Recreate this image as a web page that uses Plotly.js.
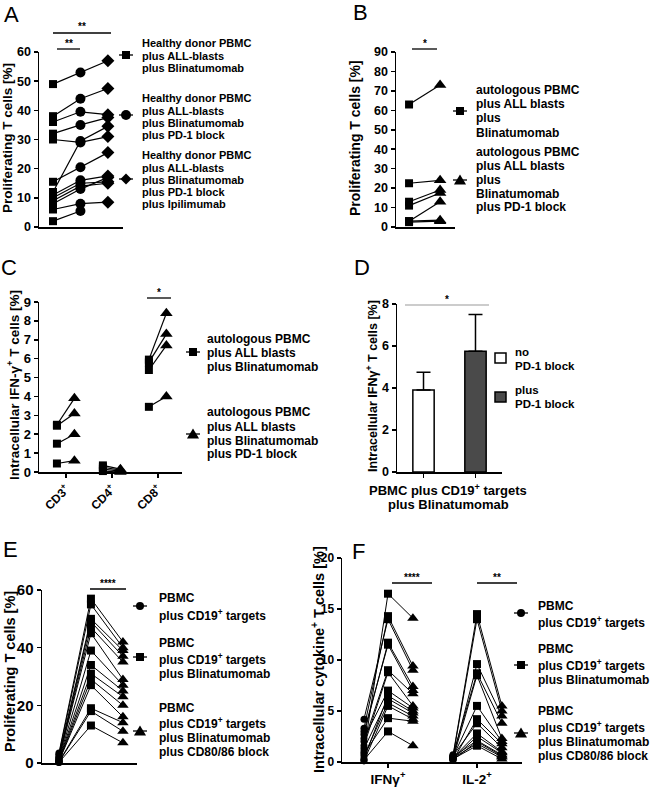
<!DOCTYPE html>
<html><head><meta charset="utf-8">
<script src="https://cdn.plot.ly/plotly-3.0.1.min.js"></script>
<style>html,body{margin:0;padding:0;background:#fff}</style>
</head><body><div id="chart" style="width:650px;height:789px"></div>
<script>
// ---------- DATA ----------
// Panel A: proliferating T cells [%], healthy donors
const A_blina      = [49, 38, 36, 32, 30, 12, 15.5, 11, 10, 9, 8, 6, 2];
const A_pd1        = [53, 44, 39.5, 35, 29, 29.5, 20.5, 16, 15, 14, 13, 8, 5.5];
const A_pd1_ipi    = [57, 47.5, 38.5, 37.5, 31, 34.5, 25.5, 17.5, 15.5, 15, 17, 8.5, null];
// Panel B: autologous PBMC
const B_blina      = [63, 22.5, 13, 11, 3, 3, 2.5];
const B_pd1        = [73, 24, 19, 17.5, 13, 3.5, 3];
// Panel C: intracellular IFN-g+ T cells [%]
const C_categories = ["CD3<sup>+</sup>", "CD4<sup>+</sup>", "CD8<sup>+</sup>"];
const C_blina      = [[2.5, 2.45, 1.5, 0.45], [0.35, 0.25, 0.15, 0.05], [5.95, 5.8, 5.4, 3.45]];
const C_pd1        = [[3.9, 3.1, 2.0, 0.6], [0.15, 0.1, 0.05, 0.0], [8.4, 7.3, 6.7, 4.0]];
// Panel D: mean + SD
const D_labels     = ["no PD-1 block", "plus PD-1 block"];
const D_means      = [3.9, 5.75];
const D_sd         = [0.85, 1.75];
// Panel E: proliferating T cells [%]
const E_ctrl       = [3.5, 3.0, 2.5, 2.0, 1.8, 1.5, 1.2, 1.0, 0.8, 0.6, 0.5, 0.4, 0.3, 0.2];
const E_blina      = [57, 55, 50, 49, 47, 45, 39, 34, 31, 29, 27, 19, 18, 13];
const E_cd80       = [42, 40, 39, 37, 35, 29, 27, 25, 23, 20, 16, 14, 11, 7];
// Panel F: intracellular cytokine+ T cells [%]
const F_categories = ["IFNγ<sup>+</sup>", "IL-2<sup>+</sup>"];
const F_ifn_ctrl   = [1.0, 3.3, 4.2, 2.7, 3.0, 2.0, 1.6, 2.3, 0.3, 1.3, 0.6, 0.1, 0.8, 0.2];
const F_ifn_blina  = [16.5, 14.3, 14.0, 11.7, 11.5, 9.0, 8.8, 7.0, 6.5, 6.2, 5.8, 5.5, 4.3, 3.0];
const F_ifn_cd80   = [14.1, 9.4, 9.0, 7.4, 7.0, 6.7, 5.5, 5.3, 5.0, 4.8, 4.5, 4.2, 4.0, 1.6];
const F_il2_ctrl   = [0.6, 0.5, 0.4, 0.7, 0.3, 0.5, 0.2, 0.6, 0.4, 0.3, 0.5, 0.2, 0.4, 0.3];
const F_il2_blina  = [14.5, 14.0, 9.6, 8.7, 8.5, 5.5, 4.2, 3.8, 2.8, 2.5, 2.1, 2.0, 1.8, 1.6];
const F_il2_cd80   = [5.5, 5.0, 4.5, 3.8, 2.3, 2.0, 1.8, 1.4, 1.0, 0.9, 0.7, 0.6, 0.5, 0.3];

// ---------- HELPERS ----------
const W = 650, H = 789;
const px = x => x / W, py = y => 1 - y / H;
const FAM = "Liberation Sans, Arial, sans-serif";
const traces = [], shapes = [], annotations = [];

function paired(xa, ya, cols, xs, syms, sizes, lw) {
  const lx = [], ly = [];
  const n = cols[0].length;
  for (let i = 0; i < n; i++) {
    for (let c = 0; c < cols.length; c++) {
      if (cols[c][i] !== null && cols[c][i] !== undefined) { lx.push(xs[c]); ly.push(cols[c][i]); }
    }
    lx.push(null); ly.push(null);
  }
  traces.push({type: 'scatter', mode: 'lines', x: lx, y: ly, xaxis: xa, yaxis: ya,
    line: {color: 'black', width: lw || 1.2}, hoverinfo: 'skip', cliponaxis: false});
  for (let c = 0; c < cols.length; c++) {
    traces.push({type: 'scatter', mode: 'markers', x: cols[c].map(() => xs[c]), y: cols[c],
      xaxis: xa, yaxis: ya, cliponaxis: false,
      marker: {symbol: syms[c], size: sizes[c], color: 'black', line: {width: 0}}});
  }
}

function text(x, y, t, size, opts) {
  annotations.push(Object.assign({xref: 'paper', yref: 'paper', x: px(x), y: py(y), text: t,
    showarrow: false, xanchor: 'left', yanchor: 'middle',
    font: {family: FAM, size: size, color: 'black', weight: 700}}, opts || {}));
}
function lines(x, ys, arr, size) { arr.forEach((t, i) => text(x, ys[i], t, size)); }
function ytitle(cx, cy, t, size) {
  text(cx, cy, t, size, {xanchor: 'center', textangle: -90});
}
function letter(cx, cy, t) {
  text(cx, cy, t, 22, {xanchor: 'center', font: {family: FAM, size: 22, color: 'black', weight: 400}});
}
function hline(x0, x1, y, color, w) {
  shapes.push({type: 'line', xref: 'paper', yref: 'paper', x0: px(x0), x1: px(x1), y0: py(y), y1: py(y),
    line: {color: color || 'black', width: w || 1.2}});
}
function sig(x0, x1, y, stars, color) {
  hline(x0, x1, y, color || 'black', 1.3);
  text((x0 + x1) / 2, y - 6, stars, 10, {xanchor: 'center'});
}
function legSym(x, y, kind, r) {
  hline(x - 7, x + 7, y, 'black', 1.3);
  const f = {fillcolor: 'black', line: {color: 'black', width: 0}, xref: 'paper', yref: 'paper'};
  if (kind === 'square') shapes.push(Object.assign({type: 'rect', x0: px(x - r), x1: px(x + r), y0: py(y + r), y1: py(y - r)}, f));
  else if (kind === 'circle') shapes.push(Object.assign({type: 'circle', x0: px(x - r), x1: px(x + r), y0: py(y + r), y1: py(y - r)}, f));
  else if (kind === 'diamond') shapes.push(Object.assign({type: 'path',
    path: `M ${px(x)} ${py(y - r)} L ${px(x + r)} ${py(y)} L ${px(x)} ${py(y + r)} L ${px(x - r)} ${py(y)} Z`}, f));
  else if (kind === 'triangle') shapes.push(Object.assign({type: 'path',
    path: `M ${px(x)} ${py(y - r)} L ${px(x + r * 1.1)} ${py(y + r * 0.8)} L ${px(x - r * 1.1)} ${py(y + r * 0.8)} Z`}, f));
}
function yax(y0, y1, range, dtick, fs, anchor) {
  return {domain: [py(y1), py(y0)], range: range, dtick: dtick, tick0: 0, anchor: anchor,
    showline: true, linecolor: 'black', linewidth: 1.5, ticks: 'outside', ticklen: 4, tickwidth: 1.5,
    tickcolor: 'black', showgrid: false, zeroline: false, fixedrange: true,
    tickfont: {family: FAM, size: fs, color: 'black', weight: 700}};
}
function xax(x0, x1, range, anchor, tickvals, ticktext, fs, angle) {
  const o = {domain: [px(x0), px(x1)], range: range, anchor: anchor,
    showline: true, linecolor: 'black', linewidth: 1.5, showgrid: false, zeroline: false, fixedrange: true,
    tickfont: {family: FAM, size: fs || 12, color: 'black', weight: 700}};
  if (tickvals) {
    Object.assign(o, {tickmode: 'array', tickvals: tickvals, ticktext: ticktext, ticks: 'outside',
      ticklen: 4, tickwidth: 1.5, tickcolor: 'black'});
    if (angle !== undefined) o.tickangle = angle;
  } else {
    Object.assign(o, {showticklabels: false, ticks: ''});
  }
  return o;
}

// ---------- PANEL A ----------
paired('x', 'y', [A_blina, A_pd1, A_pd1_ipi], [0, 1, 2], ['square', 'circle', 'diamond'], [8, 10, 10]);
// ---------- PANEL B ----------
paired('x2', 'y2', [B_blina, B_pd1], [0, 1], ['square', 'triangle-up'], [8, 11]);
// ---------- PANEL C ----------
C_categories.forEach((c, k) => {
  paired('x3', 'y3', [C_blina[k], C_pd1[k]], [k - 0.2, k + 0.18], ['square', 'triangle-up'], [8, 11]);
});
// ---------- PANEL D ----------
traces.push({type: 'bar', x: [0, 1], y: D_means, xaxis: 'x4', yaxis: 'y4', width: 0.41,
  marker: {color: ['#ffffff', '#4a4a4a'], line: {color: 'black', width: 1.5}},
  error_y: {type: 'data', symmetric: false, array: D_sd, arrayminus: D_sd.map(() => 0),
    color: 'black', thickness: 1.5, width: 7}, hovertext: D_labels});
// ---------- PANEL E ----------
paired('x5', 'y5', [E_ctrl, E_blina, E_cd80], [0, 1, 2], ['circle', 'square', 'triangle-up'], [7, 8, 10], 1.0);
// ---------- PANEL F ----------
paired('x6', 'y6', [F_ifn_ctrl, F_ifn_blina, F_ifn_cd80], [-0.27, 0, 0.28], ['circle', 'square', 'triangle-up'], [7, 8, 10], 1.0);
paired('x6', 'y6', [F_il2_ctrl, F_il2_blina, F_il2_cd80], [1 - 0.27, 1, 1.28], ['circle', 'square', 'triangle-up'], [7, 8, 10], 1.0);

// ---------- DECORATION ----------
letter(11, 14, 'A'); letter(360, 13, 'B'); letter(9, 268, 'C');
letter(362, 268, 'D'); letter(10, 549, 'E'); letter(358, 551, 'F');

ytitle(8, 138, 'Proliferating T cells [%]', 13.5);
ytitle(355, 138, 'Proliferating T cells [%]', 14);
ytitle(13, 385, 'Intracellular IFN-γ<sup>+</sup> T cells [%]', 13.5);
ytitle(372, 386, 'Intracellular IFNγ<sup>+</sup> T cells [%]', 12.5);
ytitle(10, 672, 'Proliferating T cells [%]', 14.5);
ytitle(318, 660, 'Intracellular cytokine<sup>+</sup> T cells [%]', 14.5);

// significance
sig(53, 111, 33, '**'); sig(57, 80, 49, '**');
sig(412, 437, 49, '*');
sig(147, 171, 298, '*');
sig(405, 489, 305, '*', '#bbbbbb');
sig(90, 126, 589, '****');
sig(392, 432, 583, '****'); sig(477, 517, 583, '**');

// legends
legSym(126, 55, 'square', 4); legSym(126, 115, 'circle', 5); legSym(126, 179, 'diamond', 5.5);
lines(140, [43, 56, 68], ['Healthy donor PBMC', 'plus ALL-blasts', 'plus Blinatumomab'], 11);
lines(140, [98, 111, 123, 135], ['Healthy donor PBMC', 'plus ALL-blasts', 'plus Blinatumomab', 'plus PD-1 block'], 11);
lines(140, [155, 168, 180, 192, 204], ['Healthy donor PBMC', 'plus ALL-blasts', 'plus Blinatumomab', 'plus PD-1 block', 'plus Ipilimumab'], 11);

legSym(460, 111, 'square', 4); legSym(460, 180, 'triangle', 5.5);
lines(474, [90, 104, 118, 133], ['autologous PBMC', 'plus ALL blasts', 'plus', 'Blinatumomab'], 12);
lines(474, [152, 166, 180, 194, 207], ['autologous PBMC', 'plus ALL blasts', 'plus', 'Blinatumomab', 'plus PD-1 block'], 12);

legSym(193, 352, 'square', 4); legSym(193, 434, 'triangle', 5.5);
lines(205, [339, 353, 367], ['autologous PBMC', 'plus ALL blasts', 'plus Blinatumomab'], 12);
lines(205, [412, 427, 441, 454], ['autologous PBMC', 'plus ALL blasts', 'plus Blinatumomab', 'plus PD-1 block'], 12);

shapes.push({type: 'rect', xref: 'paper', yref: 'paper', x0: px(495), x1: px(506), y0: py(363), y1: py(353),
  fillcolor: '#ffffff', line: {color: 'black', width: 1.5}});
shapes.push({type: 'rect', xref: 'paper', yref: 'paper', x0: px(495), x1: px(506), y0: py(402), y1: py(392),
  fillcolor: '#4a4a4a', line: {color: 'black', width: 1.5}});
lines(513, [352, 366], ['no', 'PD-1 block'], 11.5);
lines(513, [390, 404], ['plus', 'PD-1 block'], 11.5);
text(448, 490, 'PBMC plus CD19<sup>+</sup> targets', 13, {xanchor: 'center'});
text(448, 505, 'plus Blinatumomab', 13, {xanchor: 'center'});

legSym(140, 606, 'circle', 4); legSym(140, 657, 'square', 4); legSym(140, 731, 'triangle', 5.5);
lines(157, [598, 615], ['PBMC', 'plus CD19<sup>+</sup> targets'], 12);
lines(157, [643, 659, 674], ['PBMC', 'plus CD19<sup>+</sup> targets', 'plus Blinatumomab'], 12);
lines(157, [708, 723, 738, 752], ['PBMC', 'plus CD19<sup>+</sup> targets', 'plus Blinatumomab', 'plus CD80/86 block'], 12);

legSym(521, 613, 'circle', 4); legSym(521, 665, 'square', 4); legSym(521, 733, 'triangle', 5.5);
lines(536, [606, 622], ['PBMC', 'plus CD19<sup>+</sup> targets'], 12);
lines(536, [649, 665, 680], ['PBMC', 'plus CD19<sup>+</sup> targets', 'plus Blinatumomab'], 12);
lines(536, [711, 727, 742, 756], ['PBMC', 'plus CD19<sup>+</sup> targets', 'plus Blinatumomab', 'plus CD80/86 block'], 12);

// ---------- LAYOUT ----------
const layout = {
  width: W, height: H, margin: {l: 0, r: 0, t: 0, b: 0}, showlegend: false,
  paper_bgcolor: '#fff', plot_bgcolor: 'rgba(0,0,0,0)', bargap: 0,
  font: {family: FAM, color: 'black', size: 12},
  xaxis:  xax(39, 123, [-0.51, 2.55], 'y'),
  yaxis:  yax(52, 227, [0, 60], 10, 12.5, 'x'),
  xaxis2: xax(396, 455, [-0.42, 1.48], 'y2'),
  yaxis2: yax(52, 227, [0, 90], 10, 12.5, 'x2'),
  xaxis3: xax(39, 182, [-0.59, 2.52], 'y3', [0, 1, 2], C_categories, 12, -45),
  yaxis3: yax(302, 472, [0, 9], 1, 13, 'x3'),
  xaxis4: xax(397, 502, [-0.51, 1.51], 'y4', [0, 1], ['', '']),
  yaxis4: yax(304, 472, [0, 8], 2, 12.5, 'x4'),
  xaxis5: xax(42, 137, [-0.53, 2.44], 'y5'),
  yaxis5: yax(590, 763, [0, 60], 20, 15, 'x5'),
  xaxis6: xax(342, 522, [-0.517, 1.506], 'y6', [0, 1], F_categories, 13.5),
  yaxis6: yax(558, 762, [0, 20], 5, 12, 'x6'),
  shapes: shapes, annotations: annotations
};
Plotly.newPlot('chart', traces, layout, {staticPlot: true, displayModeBar: false});
</script></body></html>
